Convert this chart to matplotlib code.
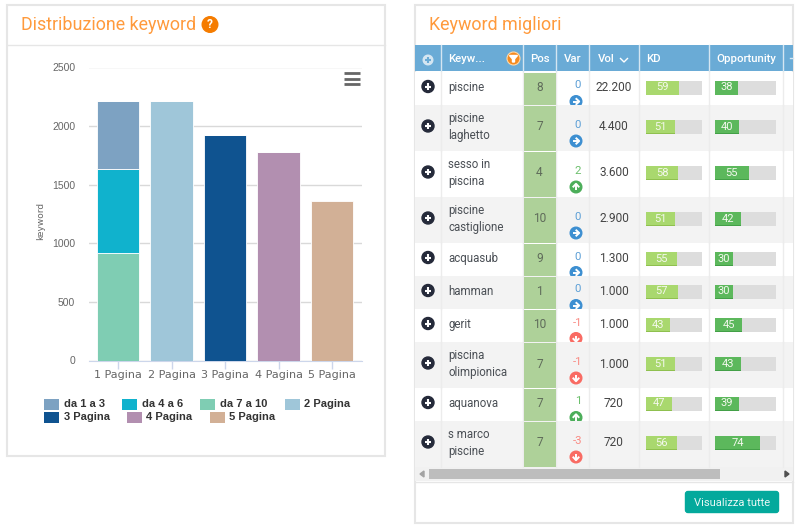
import matplotlib
matplotlib.use("Agg")
import matplotlib.pyplot as plt
from matplotlib.patches import Rectangle, Circle, FancyBboxPatch, Polygon

# bar chart data
pages = ['1 Pagina', '2 Pagina', '3 Pagina', '4 Pagina', '5 Pagina']
da_7_10 = [915, 0, 0, 0, 0]
da_4_6 = [715, 0, 0, 0, 0]
da_1_3 = [580, 0, 0, 0, 0]
pagina_2 = [0, 2215, 0, 0, 0]
pagina_3 = [0, 0, 1925, 0, 0]
pagina_4 = [0, 0, 0, 1775, 0]
pagina_5 = [0, 0, 0, 0, 1365]
y_ticks = [0, 500, 1000, 1500, 2000, 2500]

# table data
keywords = ['piscine', 'piscine\nlaghetto', 'sesso in\npiscina', 'piscine\ncastiglione', 'acquasub',
            'hamman', 'gerit', 'piscina\nolimpionica', 'aquanova', 's marco\npiscine']
positions = [8, 7, 4, 10, 9, 1, 10, 7, 7, 7]
variations = [0, 0, 2, 0, 0, 0, -1, -1, 1, -3]
volumes = ['22.200', '4.400', '3.600', '2.900', '1.300', '1.000', '1.000', '1.000', '720', '720']
kd = [59, 51, 58, 51, 55, 57, 43, 51, 47, 56]
opportunity = [38, 40, 55, 42, 30, 30, 45, 43, 39, 74]

ORANGE = '#ff9a3c'
BORDER = '#e6e6e6'
HEAD = '#6aabd6'
TEXT = '#4a4f55'

plt.rcParams['font.family'] = ['Roboto', 'DejaVu Sans']
fig = plt.figure(figsize=(8, 5.3), dpi=100)

# whole figure in pixels, for the page around the chart
bg = fig.add_axes([0, 0, 1, 1])
bg.set_xlim(0, 800)
bg.set_ylim(530, 0)
bg.axis('off')


def box(x0, y0, x1, y1, color, edge='none', lw=0, z=1):
    r = Rectangle((x0, y0), x1 - x0, y1 - y0, facecolor=color, edgecolor=edge, linewidth=lw, zorder=z)
    bg.add_patch(r)
    return r


def plus_icon(cx, cy, r, color, cross):
    bg.add_patch(Circle((cx, cy), r, color=color, zorder=3))
    arm = r * 0.55
    bg.plot([cx - arm, cx + arm], [cy, cy], color=cross, lw=1.5, solid_capstyle='butt', zorder=4)
    bg.plot([cx, cx], [cy - arm, cy + arm], color=cross, lw=1.5, solid_capstyle='butt', zorder=4)


# left panel
box(7, 5, 385, 456, 'white', BORDER, 1.5)
bg.plot([7, 385], [44.5, 44.5], color=BORDER, lw=1)
bg.text(21, 25, 'Distribuzione keyword', color=ORANGE, fontsize=12.9, va='center')
bg.add_patch(Circle((210, 24.5), 7.8, color='#f57c00', zorder=3))
bg.text(210, 24.7, '?', color='white', fontsize=8.5, fontweight='bold', ha='center', va='center', zorder=4)
for y in [73, 78.5, 84]:
    bg.plot([344, 360], [y, y], color='#666666', lw=2, solid_capstyle='butt', zorder=6)

# bar chart
ax = fig.add_axes([89 / 800, 1 - 360.5 / 530, 273 / 800, 293 / 530])
ax.patch.set_alpha(0)
series = [
    (da_7_10, '#7fcdb3'), (da_4_6, '#10b2cd'), (da_1_3, '#7da2c2'), (pagina_2, '#9fc6d9'),
    (pagina_3, '#0f5390'), (pagina_4, '#b28fb0'), (pagina_5, '#d2b096'),
]
bottom = [0, 0, 0, 0, 0]
for values, color in series:
    ax.bar(range(5), values, width=0.79, bottom=bottom, color=color, edgecolor='white', linewidth=0.6, zorder=3)
    bottom = [b + v for b, v in zip(bottom, values)]
ax.set_xlim(-0.542, 4.56)
ax.set_ylim(0, 2500)
ax.set_yticks(y_ticks)
ax.set_xticks(range(5))
ax.set_xticklabels(pages, family='DejaVu Sans', fontsize=8, color='#666666')
ax.tick_params(axis='x', length=6, color='#ccd6eb', width=1, pad=1)
ax.tick_params(axis='y', length=0, pad=10)
for lab in ax.get_yticklabels():
    lab.set_family('Liberation Sans')
    lab.set_fontsize(7.5)
    lab.set_color('#666666')
ax.grid(axis='y', color='#d9d9d9', linewidth=1, zorder=0)
for side in ['top', 'left', 'right']:
    ax.spines[side].set_visible(False)
ax.spines['bottom'].set_color('#ccd6eb')
ax.set_ylabel('keyword', family='DejaVu Sans', fontsize=6.5, color='#666666')
ax.yaxis.set_label_coords(-0.16, 0.475)

# legend
legend_items = [
    ('da 1 a 3', '#7da2c2', 44, 404), ('da 4 a 6', '#10b2cd', 122, 404), ('da 7 a 10', '#7fcdb3', 200, 404),
    ('2 Pagina', '#9fc6d9', 285, 404), ('3 Pagina', '#0f5390', 44, 417), ('4 Pagina', '#b28fb0', 127, 417),
    ('5 Pagina', '#d2b096', 209.5, 417),
]
for label, color, x, y in legend_items:
    box(x, y - 5.5, x + 15, y + 5.5, color)
    bg.text(x + 19.5, y, label, family='Liberation Sans', fontweight='bold', fontsize=8, color='#333333', va='center')

# right panel
box(415, 5, 793, 523, 'white', BORDER, 1.5)
bg.text(429, 25, 'Keyword migliori', color=ORANGE, fontsize=12.9, va='center')

col_x = [415, 441, 523, 556, 589, 639, 709, 783, 793]
box(415, 45, 793, 71, HEAD)
for x in col_x[1:-1]:
    bg.plot([x, x], [45, 71], color='#d5e6f2', lw=1, zorder=2)
heads = [('Keyw...', 448.5, 'left'), ('Pos', 539.5, 'center'), ('Var', 572.5, 'center'), ('Vol', 598, 'left'),
         ('KD', 646, 'left'), ('Opportunity', 716, 'left')]
for label, x, ha in heads:
    bg.text(x, 58.5, label, color='white', fontsize=8.2, fontweight='medium', ha=ha, va='center', zorder=3)
bg.plot([620.5, 624, 627.5], [58.5, 62, 58.5], color='white', lw=1, zorder=3)
bg.plot([790, 793], [57.5, 57.5], color='#d5e6f2', lw=1, zorder=3)
plus_icon(428, 60, 4.8, '#d5e6f2', HEAD)
bg.add_patch(Circle((513.5, 58.5), 6.5, facecolor='#f58a1f', edgecolor='#ffd9a8', lw=0.8, zorder=3))
bg.add_patch(Polygon([(509.5, 55.5), (517.5, 55.5), (514.5, 59), (514.5, 62), (512.5, 62), (512.5, 59)],
                     color='white', zorder=4))


def var_icon(cx, cy, value, clip):
    # round badge with an arrow, cut off by its row like in the table cell
    color = '#3d8fd1' if value == 0 else ('#4cae5a' if value > 0 else '#f96b63')
    badge = Circle((cx, cy), 5.8, color=color, zorder=4)
    bg.add_patch(badge)
    badge.set_clip_path(clip)
    if value == 0:
        a, b, c = ((cx - 3, cy), (cx + 2.8, cy), [(cx + 0.4, cy - 2.6), (cx + 3.2, cy), (cx + 0.4, cy + 2.6)])
    elif value > 0:
        a, b, c = ((cx, cy + 3), (cx, cy - 2.8), [(cx - 2.6, cy - 0.4), (cx, cy - 3.2), (cx + 2.6, cy - 0.4)])
    else:
        a, b, c = ((cx, cy - 3), (cx, cy + 2.8), [(cx - 2.6, cy + 0.4), (cx, cy + 3.2), (cx + 2.6, cy + 0.4)])
    line = bg.plot([a[0], b[0]], [a[1], b[1]], color='white', lw=1.4, zorder=5, solid_capstyle='butt')[0]
    head = bg.plot([p[0] for p in c], [p[1] for p in c], color='white', lw=1.4, zorder=5)[0]
    line.set_clip_path(clip)
    head.set_clip_path(clip)


row_edges = [72, 105, 151, 197, 243, 276, 309, 342, 388, 421, 467]
for i, kw in enumerate(keywords):
    top, bot = row_edges[i], row_edges[i + 1]
    mid = (top + bot) / 2
    row = box(415, top, 793, bot, '#f3f3f3' if i % 2 else 'white')
    for x in col_x[1:-1]:
        bg.plot([x, x], [top, bot], color='#ececec', lw=1, zorder=2)
    # expand button
    plus_icon(428, mid - 2, 6, '#252a3a', 'white')
    bg.text(448.5, mid - 1, kw, color=TEXT, fontsize=8.3, va='center', linespacing=1.48, zorder=3)
    # position cell
    box(523.5, top + 0.5, 555.5, bot - 0.5, '#aed199', z=2)
    bg.text(539.5, mid - 1, str(positions[i]), color='#5f6b5a', fontsize=8.6, ha='center', va='center', zorder=3)
    # variation
    v = variations[i]
    vcolor = '#5c9fd6' if v == 0 else ('#6cbf6c' if v > 0 else '#f98a83')
    bg.text(578, mid - 3, str(v), color=vcolor, fontsize=8.2, ha='center', va='center', zorder=3)
    var_icon(576, mid + 13, v, row)
    # volume
    bg.text(614, mid - 1, volumes[i], color='#444444', fontsize=8.6, ha='center', va='center', zorder=3)
    # KD and opportunity bars, full track is 100
    for x0, width, val, col, dark in [(646, 56, kd[i], '#a9d86e', '#8fc04f'),
                                      (715, 61, opportunity[i], '#5cb85c', '#43a047')]:
        filled = width * val / 100
        box(x0, mid - 8, x0 + width, mid + 6, '#dddddd', z=3)
        box(x0, mid - 8, x0 + filled, mid + 6, col, z=4)
        box(x0, mid + 5.2, x0 + filled, mid + 6, dark, z=4)
        bg.text(x0 + filled / 2, mid - 1, str(val), color='#f4f8ee', fontsize=8, ha='center', va='center', zorder=5)

# scrollbar
box(415, 467, 793, 481, '#f1f1f1')
box(428.5, 469, 720, 479, '#bdbdbd', z=2)
bg.add_patch(Polygon([(424, 471), (424, 477), (420, 474)], color='#a3a3a3', zorder=3))
bg.add_patch(Polygon([(785, 471), (785, 477), (789, 474)], color='#505050', zorder=3))
bg.plot([415, 793], [481.5, 481.5], color=BORDER, lw=1)

# button
bg.add_patch(FancyBboxPatch((685.5, 491.5), 93, 21, boxstyle='round,pad=0,rounding_size=2.5', facecolor='#04a99c',
                            edgecolor='#04a99c', lw=1, zorder=3))
bg.text(732, 502.5, 'Visualizza tutte', color='#e9f7f5', fontsize=8, ha='center', va='center', zorder=4)

fig.savefig('out.png', dpi=100)
